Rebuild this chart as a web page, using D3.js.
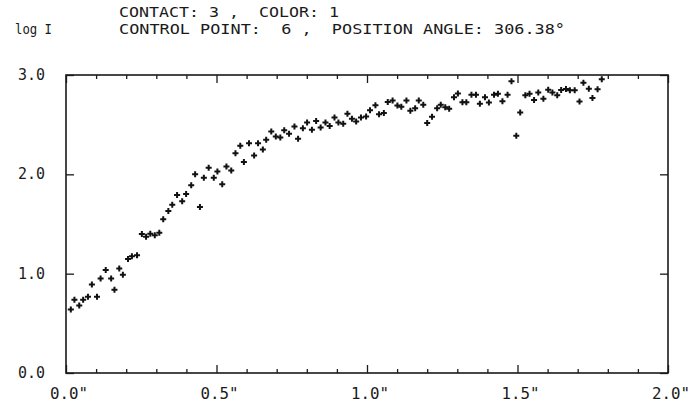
<!DOCTYPE html>
<html><head><meta charset="utf-8">
<script src="https://cdn.jsdelivr.net/npm/d3@7"></script>
<style>body{margin:0;background:#fff}svg{display:block}text{white-space:pre}</style>
</head><body>
<script>
// ---- data ----
const xValues = [0.016,0.028,0.044,0.057,0.073,0.086,0.103,0.115,0.132,0.150,
0.161,0.177,0.189,0.206,0.219,0.236,0.252,0.266,0.280,0.295,
0.310,0.323,0.340,0.353,0.369,0.386,0.399,0.416,0.429,0.445,
0.458,0.474,0.491,0.503,0.519,0.533,0.549,0.563,0.579,0.591,
0.608,0.625,0.638,0.654,0.665,0.682,0.697,0.712,0.725,0.741,
0.759,0.771,0.787,0.801,0.817,0.831,0.846,0.862,0.876,0.892,
0.905,0.921,0.935,0.950,0.964,0.980,0.997,1.010,1.028,1.040,
1.056,1.069,1.085,1.101,1.114,1.131,1.144,1.160,1.172,1.187,
1.200,1.216,1.233,1.245,1.260,1.273,1.289,1.302,1.317,1.330,
1.347,1.362,1.375,1.392,1.405,1.422,1.435,1.450,1.467,1.480,
1.496,1.509,1.526,1.540,1.555,1.569,1.586,1.602,1.616,1.632,
1.645,1.661,1.674,1.690,1.706,1.719,1.737,1.749,1.766,1.780];
const logI = [0.640,0.737,0.680,0.737,0.767,0.891,0.767,0.951,1.038,0.951,
0.837,1.051,0.988,1.148,1.176,1.186,1.399,1.372,1.402,1.386,
1.412,1.547,1.630,1.695,1.793,1.730,1.803,1.891,2.001,1.670,
1.966,2.066,1.966,2.028,1.901,2.078,2.038,2.212,2.289,2.124,
2.312,2.189,2.312,2.249,2.349,2.432,2.382,2.372,2.445,2.409,
2.482,2.359,2.465,2.523,2.449,2.536,2.472,2.523,2.487,2.573,
2.523,2.510,2.610,2.560,2.533,2.573,2.583,2.646,2.696,2.606,
2.618,2.728,2.743,2.693,2.680,2.743,2.640,2.666,2.743,2.701,
2.516,2.580,2.666,2.701,2.675,2.661,2.776,2.813,2.726,2.726,
2.800,2.800,2.710,2.776,2.723,2.800,2.810,2.735,2.800,2.937,
2.389,2.623,2.795,2.811,2.748,2.823,2.760,2.851,2.823,2.796,
2.849,2.859,2.847,2.847,2.733,2.921,2.861,2.768,2.857,2.957];
const xMajorTicks = [0.0, 0.5, 1.0, 1.5, 2.0];
const xTickLabels = ['0.0"', '0.5"', '1.0"', '1.5"', '2.0"'];
const xMinorTicks = [0.1,0.2,0.3,0.4,0.6,0.7,0.8,0.9,1.1,1.2,1.3,1.4,1.6,1.7,1.8,1.9];
const yTicks = [0.0, 1.0, 2.0, 3.0];
const yTickLabels = ['0.0', '1.0', '2.0', '3.0'];
const titleLine1 = 'CONTACT: 3 ,  COLOR: 1';
const titleLine2 = 'CONTROL POINT:  6 ,  POSITION ANGLE: 306.38°';
const yAxisTitle = 'log I';

// ---- layout ----
const W = 695, H = 409;
const m = {left: 66, right: 27, top: 75, bottom: 36};
const svg = d3.select('body').append('svg').attr('width', W).attr('height', H);
const x = d3.scaleLinear().domain([0, 2]).range([m.left, W - m.right]);
const y = d3.scaleLinear().domain([0, 3]).range([H - m.bottom, m.top]);
const font = '"DejaVu Sans Mono", "Liberation Mono", monospace';
const ink = '#1a1a1a';

// frame
svg.append('rect').attr('x', x(0)).attr('y', y(3))
  .attr('width', x(2) - x(0)).attr('height', y(0) - y(3))
  .attr('fill', 'none').attr('stroke', ink).attr('stroke-width', 1.6);

function styleAxis(g){
  g.select('.domain').remove();
  g.selectAll('line').attr('stroke', ink).attr('stroke-width', 1.3);
  g.selectAll('text').remove();
}
// bottom & top ticks
svg.append('g').attr('transform', `translate(0,${y(0)})`)
  .call(d3.axisBottom(x).tickValues(xMinorTicks).tickSize(-4).tickFormat('')).call(styleAxis);
svg.append('g').attr('transform', `translate(0,${y(0)})`)
  .call(d3.axisBottom(x).tickValues(xMajorTicks).tickSize(-8).tickFormat('')).call(styleAxis);
svg.append('g').attr('transform', `translate(0,${y(3)})`)
  .call(d3.axisTop(x).tickValues(xMinorTicks).tickSize(-4).tickFormat('')).call(styleAxis);
svg.append('g').attr('transform', `translate(0,${y(3)})`)
  .call(d3.axisTop(x).tickValues(xMajorTicks).tickSize(-8).tickFormat('')).call(styleAxis);
// left & right ticks
svg.append('g').attr('transform', `translate(${x(0)},0)`)
  .call(d3.axisLeft(y).tickValues(yTicks).tickSize(-8).tickFormat('')).call(styleAxis);
svg.append('g').attr('transform', `translate(${x(2)},0)`)
  .call(d3.axisRight(y).tickValues(yTicks).tickSize(-8).tickFormat('')).call(styleAxis);

// tick labels
svg.append('g').selectAll('text').data(xMajorTicks).join('text')
  .attr('x', d => x(d) - 16).attr('y', y(0) + 26)
  .attr('font-family', font).attr('font-size', 16).attr('fill', ink)
  .attr('textLength', 38).attr('lengthAdjust', 'spacingAndGlyphs')
  .text((d, i) => xTickLabels[i]);
svg.append('g').selectAll('text').data(yTicks).join('text')
  .attr('x', 18).attr('y', d => y(d) + 5)
  .attr('font-family', font).attr('font-size', 16).attr('fill', ink)
  .attr('textLength', 27).attr('lengthAdjust', 'spacingAndGlyphs')
  .text((d, i) => yTickLabels[i]);

// titles
svg.append('text').attr('x', 119).attr('y', 17)
  .attr('font-family', font).attr('font-size', 14).attr('fill', ink)
  .attr('textLength', 220).attr('lengthAdjust', 'spacingAndGlyphs')
  .text(titleLine1);
svg.append('text').attr('x', 119).attr('y', 34)
  .attr('font-family', font).attr('font-size', 14).attr('fill', ink)
  .attr('textLength', 446).attr('lengthAdjust', 'spacingAndGlyphs')
  .text(titleLine2);
svg.append('text').attr('x', 15).attr('y', 34)
  .attr('font-family', font).attr('font-size', 14).attr('fill', ink)
  .attr('textLength', 37).attr('lengthAdjust', 'spacingAndGlyphs')
  .text(yAxisTitle);

// points
const sym = d3.symbol().type(d3.symbolCross).size(20);
svg.append('g').selectAll('path').data(xValues.map((v, i) => [v, logI[i]])).join('path')
  .attr('transform', d => `translate(${x(d[0])},${y(d[1])})`)
  .attr('d', sym).attr('fill', '#111');
</script>
</body></html>
